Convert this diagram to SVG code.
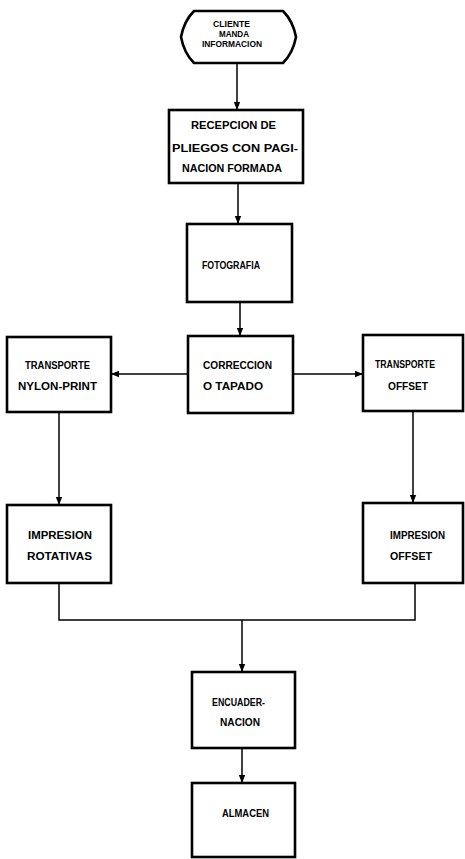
<svg xmlns="http://www.w3.org/2000/svg" width="465" height="859" viewBox="0 0 465 859">
<style>
.box{fill:#fff;stroke:#000;stroke-width:2.6}
.t{font-family:"Liberation Sans",Arial,sans-serif;font-weight:bold;font-size:10.5px;fill:#000}
.s{font-size:9px}
.c{fill:none;stroke:#000;stroke-width:1.5}
</style>
<defs>
<marker id="ah" markerWidth="8" markerHeight="8" refX="8" refY="4" orient="auto" markerUnits="userSpaceOnUse">
<path d="M0,0.8 L8,4 L0,7.2 Z" fill="#000"/>
</marker>
</defs>
<rect width="465" height="859" fill="#fff"/>
<g id="connectors">
<line class="c" x1="237" y1="64" x2="237" y2="110" marker-end="url(#ah)"/>
<line class="c" x1="238" y1="183" x2="238" y2="224" marker-end="url(#ah)"/>
<line class="c" x1="240" y1="302" x2="240" y2="336" marker-end="url(#ah)"/>
<line class="c" x1="188" y1="374" x2="111" y2="374" marker-end="url(#ah)"/>
<line class="c" x1="293" y1="374" x2="363" y2="374" marker-end="url(#ah)"/>
<line class="c" x1="59" y1="412" x2="59" y2="505" marker-end="url(#ah)"/>
<line class="c" x1="413" y1="411" x2="413" y2="503" marker-end="url(#ah)"/>
<polyline class="c" points="59,583 59,620 415,620 415,583"/>
<line class="c" x1="242" y1="620" x2="242" y2="672" marker-end="url(#ah)"/>
<line class="c" x1="242" y1="748" x2="242" y2="783" marker-end="url(#ah)"/>
</g>
<g id="n-cliente">
<path class="box" d="M194,11 H283 Q293,21 296,37 Q293,53 283,63 H194 Q184,53 181,37 Q184,21 194,11 Z"/>
<text class="t s" x="213" y="27" textLength="37" lengthAdjust="spacingAndGlyphs">CLIENTE</text>
<text class="t s" x="219" y="36.5" textLength="30" lengthAdjust="spacingAndGlyphs">MANDA</text>
<text class="t s" x="202" y="47" textLength="60" lengthAdjust="spacingAndGlyphs">INFORMACION</text>
</g>
<g id="n-recepcion">
<rect class="box" x="169" y="110" width="134" height="73"/>
<text class="t" x="191" y="129" textLength="85" lengthAdjust="spacingAndGlyphs">RECEPCION DE</text>
<text class="t" x="172" y="152" textLength="126" lengthAdjust="spacingAndGlyphs">PLIEGOS CON PAGI-</text>
<text class="t" x="182" y="172" textLength="100" lengthAdjust="spacingAndGlyphs">NACION FORMADA</text>
</g>
<g id="n-fotografia">
<rect class="box" x="187" y="224" width="105" height="78"/>
<text class="t" x="202" y="269" textLength="58" lengthAdjust="spacingAndGlyphs">FOTOGRAFIA</text>
</g>
<g id="n-correccion">
<rect class="box" x="188" y="336" width="105" height="77"/>
<text class="t" x="203" y="369" textLength="69" lengthAdjust="spacingAndGlyphs">CORRECCION</text>
<text class="t" x="203" y="390" textLength="60" lengthAdjust="spacingAndGlyphs">O TAPADO</text>
</g>
<g id="n-transporte-nylon">
<rect class="box" x="7" y="337" width="104" height="75"/>
<text class="t" x="25" y="369" textLength="65" lengthAdjust="spacingAndGlyphs">TRANSPORTE</text>
<text class="t" x="18" y="390" textLength="79" lengthAdjust="spacingAndGlyphs">NYLON-PRINT</text>
</g>
<g id="n-transporte-offset">
<rect class="box" x="363" y="335" width="100" height="76"/>
<text class="t" x="375" y="368" textLength="60" lengthAdjust="spacingAndGlyphs">TRANSPORTE</text>
<text class="t" x="388" y="390" textLength="40" lengthAdjust="spacingAndGlyphs">OFFSET</text>
</g>
<g id="n-impresion-rot">
<rect class="box" x="7" y="505" width="104" height="78"/>
<text class="t" x="28" y="539" textLength="64" lengthAdjust="spacingAndGlyphs">IMPRESION</text>
<text class="t" x="27" y="560" textLength="65" lengthAdjust="spacingAndGlyphs">ROTATIVAS</text>
</g>
<g id="n-impresion-offset">
<rect class="box" x="363" y="503" width="100" height="80"/>
<text class="t" x="390" y="539" textLength="55" lengthAdjust="spacingAndGlyphs">IMPRESION</text>
<text class="t" x="390" y="560" textLength="42" lengthAdjust="spacingAndGlyphs">OFFSET</text>
</g>
<g id="n-encuadernacion">
<rect class="box" x="192" y="672" width="103" height="76"/>
<text class="t" x="212" y="706" textLength="53" lengthAdjust="spacingAndGlyphs">ENCUADER-</text>
<text class="t" x="220" y="726" textLength="40" lengthAdjust="spacingAndGlyphs">NACION</text>
</g>
<g id="n-almacen">
<rect class="box" x="192" y="783" width="103" height="74"/>
<text class="t" x="222" y="817" textLength="47" lengthAdjust="spacingAndGlyphs">ALMACEN</text>
</g>
</svg>
